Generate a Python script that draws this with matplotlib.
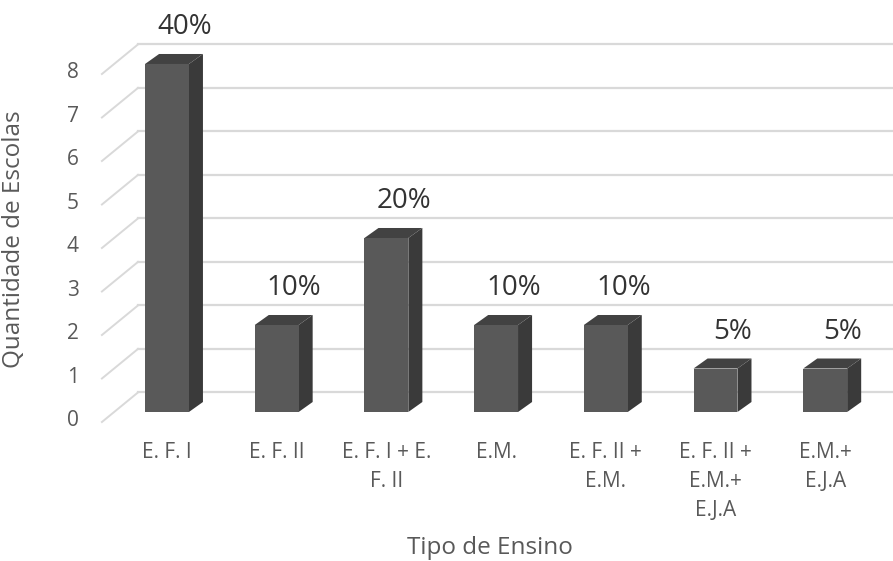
import matplotlib
matplotlib.use("Agg")
import matplotlib.pyplot as plt
from matplotlib.patches import Polygon

plt.rcParams['font.family'] = ['Open Sans', 'DejaVu Sans']

categories = ["E. F. I", "E. F. II", "E. F. I + E.\nF. II", "E.M.",
              "E. F. II +\nE.M.", "E. F. II +\nE.M.+\nE.J.A", "E.M.+\nE.J.A"]
counts = [8, 2, 4, 2, 2, 1, 1]
percent_labels = ["40%", "10%", "20%", "10%", "10%", "5%", "5%"]
y_ticks = [0, 1, 2, 3, 4, 5, 6, 7, 8]

# pseudo 3d geometry (data units)
bar_w = 0.40
dx, dy = 0.128, 0.23          # depth of each column
wall_dy = 0.45                # back wall sits behind the columns
wall_x = -0.264
floor_x, floor_dy = -0.593, -0.23

front_col = "#595959"
side_col = "#3a3a3a"
top_col = "#424242"
grid_col = "#d9d9d9"
text_col = "#595959"

fig = plt.figure(figsize=(8.93, 5.61), dpi=100)
ax = fig.add_axes([0, 0, 1, 1])
ax.set_xlim(-1.522, 6.618)
ax.set_ylim(-3.425, 9.471)
ax.axis("off")

# back wall gridlines and the slanted side wall lines
for v in y_ticks:
    yb = v + wall_dy
    ax.plot([wall_x, 6.7], [yb, yb], color=grid_col, lw=1.6, zorder=1)
    ax.plot([floor_x, wall_x], [v + floor_dy, yb], color=grid_col, lw=1.4, zorder=1)
    ax.text(-0.86, v - 0.2, str(v), ha="center", va="center",
            fontsize=15, color=text_col)

for i, v in enumerate(counts):
    x0, x1 = i - bar_w / 2, i + bar_w / 2
    ax.add_patch(Polygon([(x1, 0), (x1 + dx, dy), (x1 + dx, v + dy), (x1, v)],
                         closed=True, facecolor=side_col, edgecolor="none", zorder=3))
    ax.add_patch(Polygon([(x0, v), (x1, v), (x1 + dx, v + dy), (x0 + dx, v + dy)],
                         closed=True, facecolor=top_col, edgecolor="none", zorder=3))
    ax.add_patch(Polygon([(x0, 0), (x1, 0), (x1, v), (x0, v)],
                         closed=True, facecolor=front_col, edgecolor="none", zorder=4))
    ax.text(i + 0.16, v + 0.85, percent_labels[i], ha="center", va="center",
            fontsize=20, color="#333333", zorder=5)
    ax.text(i, -0.68, categories[i], ha="center", va="top", fontsize=15,
            color=text_col, linespacing=1.5)

ax.text(2.945, -3.13, "Tipo de Ensino", ha="center", va="center",
        fontsize=17.5, color=text_col)
ax.text(-1.395, 3.98, "Quantidade de Escolas", ha="center", va="center",
        rotation=90, fontsize=17.5, color=text_col)

fig.savefig("out.png", dpi=100)
